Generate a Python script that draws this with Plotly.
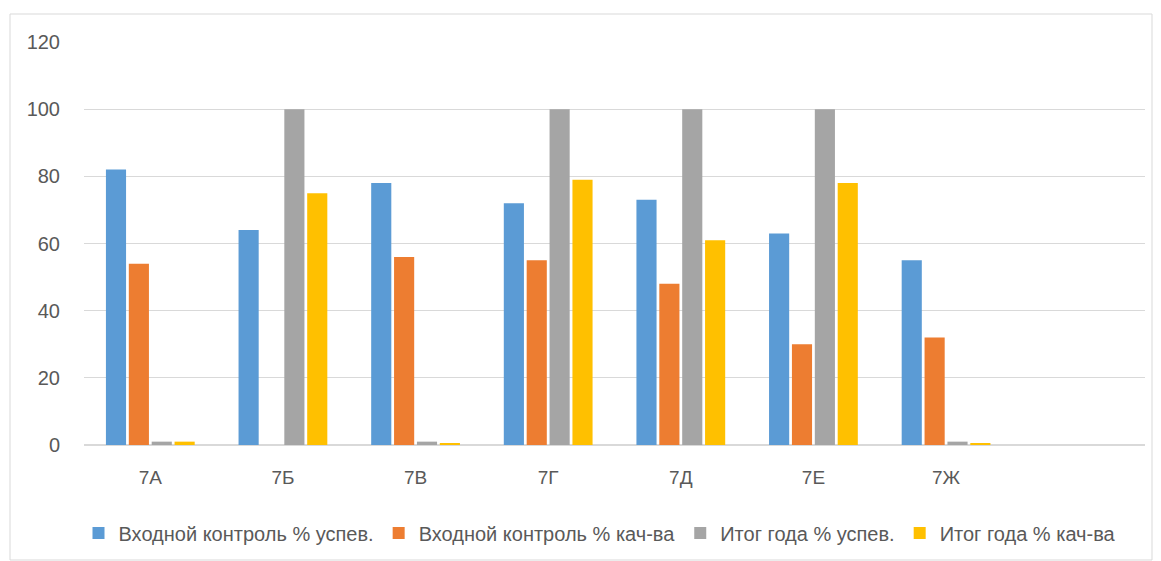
import plotly.graph_objects as go

categories = ["7А", "7Б", "7В", "7Г", "7Д", "7Е", "7Ж"]
series_names = ["Входной контроль % успев.", "Входной контроль % кач-ва",
                "Итог года % успев.", "Итог года % кач-ва"]
vhod_usp = [82, 64, 78, 72, 73, 63, 55]
vhod_kach = [54, 0, 56, 55, 48, 30, 32]
itog_usp = [1, 100, 1, 100, 100, 100, 1]
itog_kach = [1, 75, 0.5, 79, 61, 78, 0.5]
colors = ["#5B9BD5", "#ED7D31", "#A5A5A5", "#FFC000"]
y_ticks = [0, 20, 40, 60, 80, 100, 120]

fig = go.Figure()
for name, vals, c in zip(series_names, [vhod_usp, vhod_kach, itog_usp, itog_kach], colors):
    fig.add_trace(go.Bar(x=categories, y=vals, name=name, marker=dict(color=c, line=dict(width=0))))

# page body has an 8px margin, so the plot is positioned 8px down/right on the page
L, T, B, R = 76, 34, 124, 24
PW = 1161 - L - R
PH = 561 - T - B

def px_x(x):
    return (x - 8 - L) / PW

def px_y(y):
    return (561 + 8 - B - y) / PH

font_fam = "Liberation Sans, Arial, sans-serif"
fig.update_layout(
    width=1161, height=561,
    margin=dict(l=L, r=R, t=T, b=B),
    paper_bgcolor="white", plot_bgcolor="white",
    barmode="group", bargap=0.31, bargroupgap=0.12,
    font=dict(family=font_fam, color="#595959", size=18),
    xaxis=dict(range=[-0.5, 7.5], showgrid=False, showline=False, zeroline=False,
               ticks="", tickfont=dict(size=19, color="#595959"), ticklabelstandoff=19,
               automargin=False),
    yaxis=dict(range=[0, 120], tickvals=y_ticks, showgrid=True, gridcolor="#D9D9D9",
               gridwidth=1, zeroline=True, zerolinecolor="#D9D9D9", showline=False,
               ticks="", tickfont=dict(size=20, color="#595959"), ticklabelstandoff=23,
               automargin=False),
    legend=dict(orientation="h", xref="paper", x=px_x(600), xanchor="center",
                yref="container", y=1 - (533 - 8) / 561, yanchor="middle",
                font=dict(size=20, color="#595959"), itemwidth=30, traceorder="normal"),
    showlegend=True,
)
fig.add_shape(type="rect", xref="paper", yref="paper",
              x0=px_x(10), x1=px_x(1152), y0=px_y(560), y1=px_y(14),
              line=dict(color="#D9D9D9", width=1), fillcolor="rgba(0,0,0,0)", layer="below")

fig.write_html("out.html")
